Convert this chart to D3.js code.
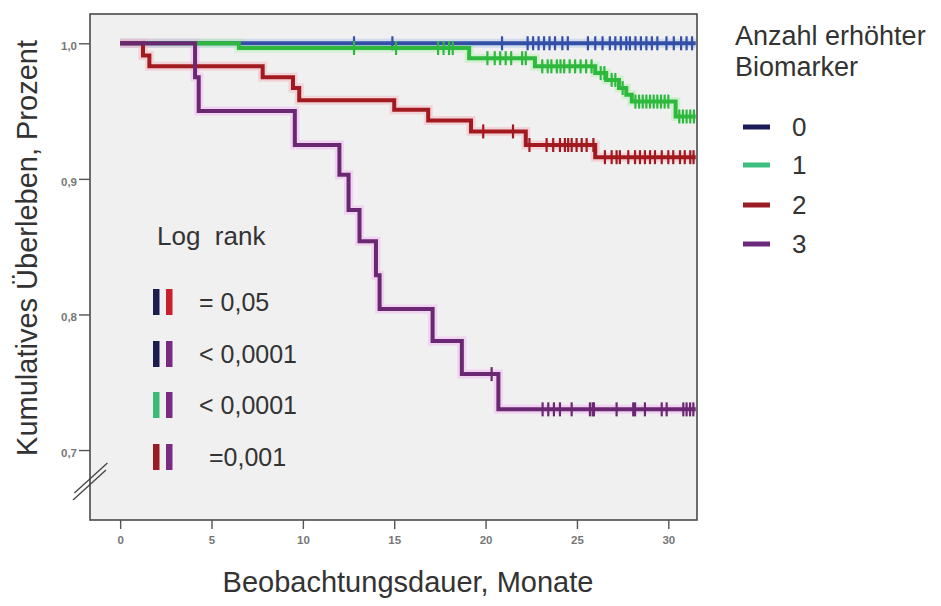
<!DOCTYPE html>
<html><head><meta charset="utf-8">
<script src="https://cdn.jsdelivr.net/npm/d3@7"></script>
<style>body{margin:0;background:#fff}svg{display:block}text{font-family:"Liberation Sans",Arial,sans-serif}</style>
</head><body><svg id="c" width="941" height="606"></svg>
<script>
// ---- data ----
const xTicks = [0, 5, 10, 15, 20, 25, 30];
const yTicks = [0.7, 0.8, 0.9, 1.0];
const yTickLabels = ["0,7", "0,8", "0,9", "1,0"];
const groups = ["0", "1", "2", "3"];
const endTime = 31.5;

const times0 = [0];
const surv0 = [1.0];
const times1 = [0, 6.5, 19.1, 22.7, 26.0, 26.6, 27.3, 27.7, 28.0, 30.4];
const surv1 = [1.0, 0.9965, 0.989, 0.983, 0.978, 0.973, 0.967, 0.962, 0.957, 0.946];
const times2 = [0, 1.25, 1.6, 7.8, 9.46, 9.8, 15.0, 16.86, 19.2, 22.2, 26.0];
const surv2 = [1.0, 0.991, 0.983, 0.975, 0.967, 0.958, 0.951, 0.943, 0.935, 0.925, 0.916];
const times3 = [0, 4.1, 4.3, 9.56, 12.0, 12.5, 13.1, 14.0, 14.2, 17.1, 18.7, 20.7];
const surv3 = [1.0, 0.975, 0.95, 0.925, 0.903, 0.877, 0.854, 0.829, 0.804, 0.7805, 0.756, 0.730];

const censor0 = [12.8, 14.9, 20.9, 22.3, 22.6, 22.9, 23.2, 23.5, 23.8, 24.2, 24.5, 25.6, 26.0, 26.4, 26.8, 27.1, 27.4, 27.7, 27.9, 28.2, 28.5, 28.8, 29.1, 29.4, 29.9, 30.3, 30.7, 31.0, 31.3];
const censor1 = [12.8, 15.1, 17.4, 17.7, 18.0, 18.2, 20.1, 20.5, 20.8, 21.1, 21.4, 22.0, 22.2, 23.1, 23.4, 23.6, 23.9, 24.1, 24.3, 24.6, 24.9, 25.2, 25.5, 25.8, 26.3, 26.5, 26.9, 27.1, 27.5, 28.2, 28.4, 28.6, 28.8, 29.0, 29.2, 29.4, 29.6, 29.8, 30.0, 30.6, 30.8, 31.0, 31.2, 31.4];
const censor2 = [19.87, 21.5, 22.4, 23.34, 23.7, 24.07, 24.34, 24.52, 24.71, 24.98, 25.26, 25.53, 25.9, 26.53, 26.9, 27.17, 27.35, 27.81, 28.18, 28.45, 28.72, 29.0, 29.27, 29.64, 30.0, 30.27, 30.64, 30.9, 31.2, 31.38];
const censor3 = [20.33, 23.12, 23.43, 23.74, 24.07, 24.71, 25.71, 25.86, 25.93, 27.17, 28.08, 28.18, 28.72, 29.64, 29.91, 30.82, 31.0, 31.19, 31.37];

const logRankLeft = ["0", "0", "1", "2"];
const logRankRight = ["2", "3", "3", "3"];
const logRankText = ["= 0,05", "< 0,0001", "< 0,0001", "=0,001"];

// ---- styles ----
const lineColors = ["#3350a6", "#2fb83e", "#a11a20", "#6a2872"];
const haloColors = ["#a8c0f0", "#a8f0a8", "#f5b0b8", "#f0b0f0"];
const keyColors = ["#1c1c58", "#3cbf80", "#9a1c24", "#6c2a7c"];
const pairColors = {"0": "#1c1c50", "1": "#3cb878", "2": "#9a1c24", "3": "#7a2a80"};
const pairColorsFirstRow = {"0": "#1c1c50", "2": "#c8202c"};

const svg = d3.select("#c");
const L = 90, R = 697, T = 14, B = 520;
const x = d3.scaleLinear().domain([-1.65, 31.57]).range([L, R]);
const y = d3.scaleLinear().domain([0.6484, 1.0216]).range([B, T]);

svg.append("rect").attr("x", L).attr("y", T).attr("width", R - L).attr("height", B - T)
  .attr("fill", "#f0f0f0");

const series = [
  {t: times0, s: surv0, c: censor0},
  {t: times1, s: surv1, c: censor1},
  {t: times2, s: surv2, c: censor2},
  {t: times3, s: surv3, c: censor3}
];
const line = d3.line().x(d => x(d[0])).y(d => y(d[1])).curve(d3.curveStepAfter);
function survAt(sr, t) { let v = sr.s[0]; sr.t.forEach((tt, i) => { if (tt <= t) v = sr.s[i]; }); return v; }

const gPlot = svg.append("g");
series.forEach((sr, i) => {
  const pts = sr.t.map((t, j) => [t, sr.s[j]]).concat([[endTime, sr.s[sr.s.length - 1]]]);
  gPlot.append("path").attr("d", line(pts)).attr("fill", "none")
    .attr("stroke", haloColors[i]).attr("stroke-width", 9).attr("opacity", 0.45);
});
series.forEach((sr, i) => {
  const pts = sr.t.map((t, j) => [t, sr.s[j]]).concat([[endTime, sr.s[sr.s.length - 1]]]);
  gPlot.append("path").attr("d", line(pts)).attr("fill", "none")
    .attr("stroke", lineColors[i]).attr("stroke-width", 4);
  gPlot.selectAll(null).data(sr.c).enter().append("line")
    .attr("x1", d => x(d)).attr("x2", d => x(d))
    .attr("y1", d => y(survAt(sr, d)) - 7).attr("y2", d => y(survAt(sr, d)) + 7)
    .attr("stroke", lineColors[i]).attr("stroke-width", 2.2);
});

// frame
svg.append("rect").attr("x", L).attr("y", T).attr("width", R - L).attr("height", B - T)
  .attr("fill", "none").attr("stroke", "#4a4a4a").attr("stroke-width", 1.6);

// axes
const xAxis = d3.axisBottom(x).tickValues(xTicks).tickSize(9).tickPadding(7).tickFormat(d3.format("d"));
const gx = svg.append("g").attr("transform", `translate(0,${B})`).call(xAxis);
const yAxis = d3.axisLeft(y).tickValues(yTicks).tickSize(11).tickPadding(2)
  .tickFormat((d, i) => yTickLabels[i]);
const gy = svg.append("g").attr("transform", `translate(${L},0)`).call(yAxis);
[gx, gy].forEach(g => {
  g.select(".domain").remove();
  g.selectAll(".tick line").attr("stroke", "#555").attr("stroke-width", 1.4);
  g.selectAll(".tick text").attr("fill", "#777").attr("font-size", 11.5).attr("font-weight", "bold")
    .style("font-family", "'Liberation Sans', Arial, sans-serif");
});
gy.selectAll(".tick text").attr("dy", "0.55em");

// axis break
[0, 7].forEach(off => {
  svg.append("line").attr("x1", 73 + off * 0.2).attr("y1", 500 - off).attr("x2", 106 + off * 0.2).attr("y2", 470 - off)
    .attr("stroke", "#444").attr("stroke-width", 1.3);
});

// axis titles
svg.append("text").attr("transform", "translate(37,248) rotate(-90)").attr("text-anchor", "middle")
  .attr("font-size", 29).attr("fill", "#333").text("Kumulatives Überleben, Prozent");
svg.append("text").attr("x", 408).attr("y", 592).attr("text-anchor", "middle")
  .attr("font-size", 29).attr("fill", "#333").text("Beobachtungsdauer, Monate");

// log rank block
svg.append("text").attr("x", 157).attr("y", 245).attr("font-size", 26).attr("fill", "#333")
  .style("white-space", "pre").text("Log  rank");
const rowY = [302, 354, 405, 457];
logRankText.forEach((t, i) => {
  const c1 = i === 0 ? pairColorsFirstRow[logRankLeft[i]] : pairColors[logRankLeft[i]];
  const c2 = i === 0 ? pairColorsFirstRow[logRankRight[i]] : pairColors[logRankRight[i]];
  svg.append("rect").attr("x", 153).attr("y", rowY[i] - 13).attr("width", 6.5).attr("height", 26).attr("fill", c1);
  svg.append("rect").attr("x", 166).attr("y", rowY[i] - 13).attr("width", 6.5).attr("height", 26).attr("fill", c2);
  svg.append("text").attr("x", i === 3 ? 209 : 199).attr("y", rowY[i] + 9).attr("font-size", 25)
    .attr("fill", "#333").text(t);
});

// legend
svg.append("text").attr("x", 735).attr("y", 45).attr("font-size", 27).attr("fill", "#333").text("Anzahl erhöhter");
svg.append("text").attr("x", 735).attr("y", 76).attr("font-size", 27).attr("fill", "#333").text("Biomarker");
const legY = [127, 165, 205, 244];
groups.forEach((g, i) => {
  svg.append("line").attr("x1", 743).attr("x2", 770).attr("y1", legY[i]).attr("y2", legY[i])
    .attr("stroke", keyColors[i]).attr("stroke-width", 5);
  svg.append("text").attr("x", 792).attr("y", legY[i] + 9).attr("font-size", 26).attr("fill", "#333").text(g);
});
</script></body></html>
